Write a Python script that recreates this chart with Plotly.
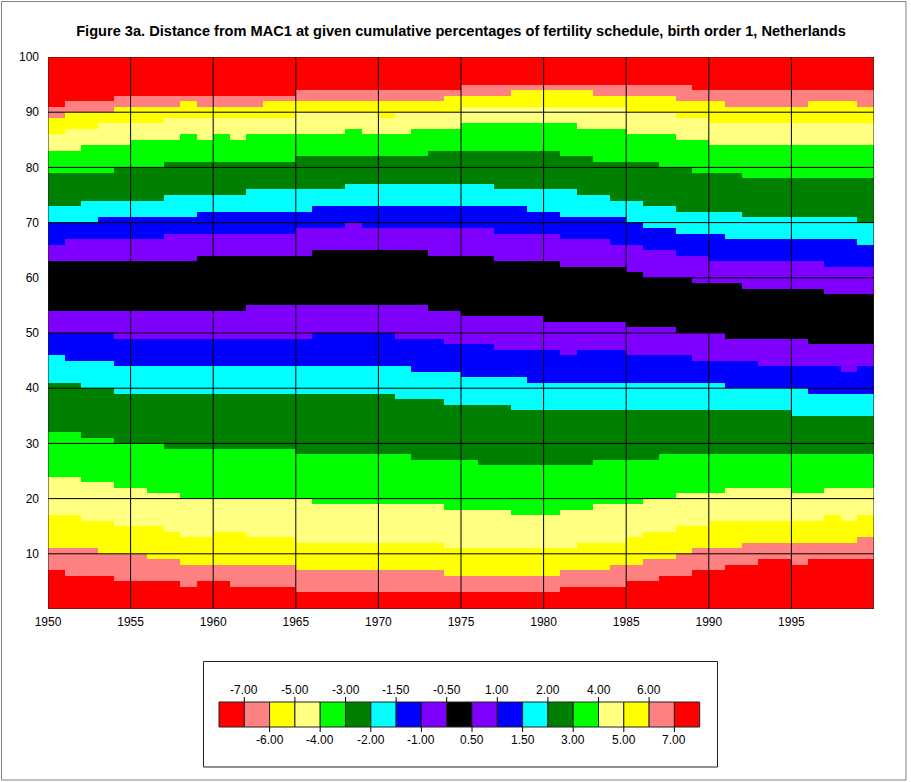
import plotly.graph_objects as go

# ---------------- data ----------------
years = list(range(1950, 2000))
year_ticks = [1950, 1955, 1960, 1965, 1970, 1975, 1980, 1985, 1990, 1995]
pct_ticks = [10, 20, 30, 40, 50, 60, 70, 80, 90, 100]

thresholds = [-7, -6, -5, -4, -3, -2, -1.5, -1, -0.5, 0.5, 1, 1.5, 2, 3, 4, 5, 6, 7]
threshold_labels = ["-7.00", "-6.00", "-5.00", "-4.00", "-3.00", "-2.00", "-1.50", "-1.00", "-0.50",
                    "0.50", "1.00", "1.50", "2.00", "3.00", "4.00", "5.00", "6.00", "7.00"]
band_colors = ["#FF0000", "#FF8080", "#FFFF00", "#FFFF80", "#00FF00", "#008000", "#00FFFF",
               "#0000FF", "#8000FF", "#000000", "#8000FF", "#0000FF", "#00FFFF", "#008000",
               "#00FF00", "#FFFF80", "#FFFF00", "#FF8080", "#FF0000"]

# cumulative percentage (lower edge, integer %) at which the distance reaches each threshold, per year
cross_m7_00 = [7,6,6,6,5,5,5,5,4,5, 5,4,4,4,4,3,3,3,3,3, 3,3,3,3,3,3,3,3,3,3, 3,4,4,4,4,5,5,6,6,7, 7,8,8,9,9,8,9,9,9,9]
cross_m6_00 = [11,11,11,10,10,10,9,9,8,8, 8,8,8,8,8,7,7,7,7,7, 7,7,7,7,6,6,6,6,6,6, 6,7,7,7,8,8,9,9,10,11, 11,11,12,12,12,12,12,12,12,13]
cross_m5_00 = [17,17,16,16,15,15,15,14,13,13, 14,14,13,13,13,12,12,12,12,12, 12,12,12,12,11,11,11,11,11,11, 11,11,12,12,12,13,14,14,15,15, 16,16,16,16,16,16,16,17,16,17]
cross_m4_00 = [24,24,23,23,22,22,21,21,20,20, 20,20,20,20,20,20,19,19,19,19, 19,19,19,19,18,18,18,18,17,17, 17,18,18,19,19,19,20,20,21,21, 21,22,22,22,22,21,21,22,22,22]
cross_m3_00 = [32,32,31,31,30,30,30,29,29,29, 29,29,29,29,29,28,28,28,28,28, 28,28,27,27,27,27,26,26,26,26, 26,26,26,27,27,27,27,28,28,28, 28,28,28,28,28,28,28,28,28,28]
cross_m2_00 = [41,41,40,40,39,39,39,39,39,39, 39,39,39,39,39,39,39,39,39,39, 39,38,38,38,37,37,37,37,36,36, 36,36,36,36,36,36,36,36,36,36, 36,36,36,36,36,35,35,35,35,35]
cross_m1_50 = [46,45,45,45,44,44,44,44,44,44, 44,44,44,44,44,44,44,44,44,44, 44,44,43,43,43,42,42,42,42,41, 41,41,41,41,41,41,41,41,41,41, 41,40,40,40,40,40,39,39,39,39]
cross_m1_00 = [50,50,50,50,49,49,49,49,49,49, 49,49,49,49,49,49,50,50,50,50, 50,49,49,49,48,48,48,47,47,47, 47,46,47,47,47,46,46,46,46,45, 45,45,45,44,44,44,44,44,43,44]
cross_m0_50 = [54,54,54,54,54,54,54,54,54,54, 54,54,55,55,55,55,55,55,55,55, 55,55,55,54,54,53,53,53,53,53, 52,52,52,52,52,51,51,51,50,50, 50,49,49,49,49,49,48,48,48,48]
cross_p0_50 = [63,63,63,63,63,63,63,63,63,64, 64,64,64,64,64,64,65,65,65,65, 65,65,65,64,64,64,64,63,63,63, 63,62,62,62,62,61,60,60,60,59, 59,59,58,58,58,58,58,57,57,57]
cross_p1_00 = [66,67,67,67,67,67,67,68,68,68, 68,68,68,68,68,69,69,69,70,69, 69,69,69,69,69,69,69,68,68,68, 68,67,67,67,66,66,65,65,64,64, 63,63,63,63,63,63,63,62,62,62]
cross_p1_50 = [70,70,70,71,71,71,71,71,71,72, 72,72,72,72,72,72,73,73,73,73, 73,73,73,73,73,73,73,73,73,72, 72,71,71,71,71,70,69,69,68,68, 68,67,67,67,67,67,67,67,67,66]
cross_p2_00 = [73,73,74,74,74,74,74,75,75,75, 75,75,76,76,76,76,76,76,77,77, 77,77,77,77,77,77,77,76,76,76, 76,76,75,75,74,74,73,73,72,72, 72,72,71,71,71,71,71,71,71,70]
cross_p3_00 = [79,79,79,79,80,80,80,81,81,81, 81,81,81,81,81,82,82,82,82,82, 82,82,82,83,83,83,83,83,83,83, 83,82,82,81,81,81,81,80,80,79, 79,79,78,78,78,78,78,78,78,78]
cross_p4_00 = [83,83,84,84,84,85,85,85,86,85, 86,85,86,86,86,86,86,86,87,86, 86,86,87,87,87,88,88,88,88,88, 88,88,87,87,87,86,86,86,85,85, 84,84,84,84,84,84,84,84,84,84]
cross_p5_00 = [86,87,87,88,88,88,88,89,89,89, 89,89,89,89,89,90,90,90,90,90, 89,90,90,90,90,91,91,91,91,91, 91,91,91,91,91,90,90,90,89,89, 88,88,88,88,88,88,88,88,88,88]
cross_p6_00 = [89,90,90,90,91,91,91,91,92,91, 91,91,91,92,92,92,92,92,92,92, 92,92,92,92,93,93,93,93,94,94, 94,94,94,93,93,93,93,93,92,92, 92,91,91,91,91,91,92,92,92,91]
cross_p7_00 = [91,92,92,92,93,93,93,93,93,93, 93,93,93,93,93,94,94,94,94,94, 94,94,94,94,94,95,95,95,95,95, 95,95,95,95,95,95,95,95,95,94, 94,94,94,94,94,94,94,94,94,94]

crossings = [cross_m7_00, cross_m6_00, cross_m5_00, cross_m4_00, cross_m3_00, cross_m2_00,
             cross_m1_50, cross_m1_00, cross_m0_50, cross_p0_50, cross_p1_00, cross_p1_50,
             cross_p2_00, cross_p3_00, cross_p4_00, cross_p5_00, cross_p6_00, cross_p7_00]

# ---------------- build band grid ----------------
pct_cells = list(range(0, 100))
z = []
for p in pct_cells:
    row = []
    for c in range(len(years)):
        row.append(sum(1 for b in crossings if b[c] <= p))
    z.append(row)

x_edges = years + [years[-1] + 1]
y_edges = pct_cells + [100]

n = len(band_colors)
colorscale = []
for i, col in enumerate(band_colors):
    colorscale.append([i / n, col])
    colorscale.append([(i + 1) / n, col])

fig = go.Figure()
fig.add_trace(go.Heatmap(z=z, x=x_edges, y=y_edges, colorscale=colorscale,
                         zmin=-0.5, zmax=n - 0.5, showscale=False, zsmooth=False,
                         hoverinfo="skip"))

# ---------------- layout ----------------
W, H = 911, 782
L, R, T, B = 48, 37, 57, 173
pw, ph = W - L - R, H - T - B


def px_x(px):
    return (px - L) / pw


def px_y(py):
    return (H - B - py) / ph


font = "Liberation Sans, Arial, sans-serif"
shapes = []
# grid lines above the bands
for yr in year_ticks[1:]:
    shapes.append(dict(type="line", xref="x", yref="y", x0=yr, x1=yr, y0=0, y1=100,
                       line=dict(color="black", width=1), layer="above"))
for p in pct_ticks[:-1]:
    shapes.append(dict(type="line", xref="x", yref="y", x0=1950, x1=2000, y0=p, y1=p,
                       line=dict(color="black", width=1), layer="above"))
# plot frame
shapes.append(dict(type="rect", xref="x", yref="y", x0=1950, x1=2000, y0=0, y1=100,
                   line=dict(color="#202020", width=1), layer="above"))
# outer chart frame
shapes.append(dict(type="rect", xref="paper", yref="paper", x0=px_x(1.5), x1=px_x(906),
                   y0=px_y(780), y1=px_y(1.5), line=dict(color="#808080", width=1), layer="above"))

# legend box
shapes.append(dict(type="rect", xref="paper", yref="paper", x0=px_x(203.5), x1=px_x(717.5),
                   y0=px_y(767), y1=px_y(661.5), line=dict(color="#202020", width=1),
                   fillcolor="white", layer="above"))
annotations = []
bx0, bw = 219.0, 25.3
by0, by1 = 702, 727
for i, col in enumerate(band_colors):
    shapes.append(dict(type="rect", xref="paper", yref="paper",
                       x0=px_x(bx0 + i * bw), x1=px_x(bx0 + (i + 1) * bw),
                       y0=px_y(by1), y1=px_y(by0), fillcolor=col,
                       line=dict(color="#202020", width=1), layer="above"))
for j, lab in enumerate(threshold_labels):
    xb = bx0 + (j + 1) * bw
    if j % 2 == 0:
        shapes.append(dict(type="line", xref="paper", yref="paper", x0=px_x(xb), x1=px_x(xb),
                           y0=px_y(by0), y1=px_y(by0 - 5), line=dict(color="black", width=1)))
        annotations.append(dict(xref="paper", yref="paper", x=px_x(xb), y=px_y(690), text=lab,
                                showarrow=False, xanchor="center", yanchor="middle",
                                font=dict(family=font, size=12, color="black")))
    else:
        shapes.append(dict(type="line", xref="paper", yref="paper", x0=px_x(xb), x1=px_x(xb),
                           y0=px_y(by1 + 5), y1=px_y(by1), line=dict(color="black", width=1)))
        annotations.append(dict(xref="paper", yref="paper", x=px_x(xb), y=px_y(740), text=lab,
                                showarrow=False, xanchor="center", yanchor="middle",
                                font=dict(family=font, size=12, color="black")))

fig.update_layout(
    width=W, height=H,
    margin=dict(l=L, r=R, t=T, b=B),
    paper_bgcolor="white", plot_bgcolor="white",
    title=dict(text="<b>Figure 3a. Distance from MAC1 at given cumulative percentages of fertility schedule, birth order 1, Netherlands</b>",
               x=0.5, xref="paper", xanchor="center", y=1 - 31 / H, yref="container", yanchor="middle",
               font=dict(family=font, size=14.6, color="black")),
    xaxis=dict(range=[1950, 2000], tickvals=year_ticks, ticktext=[str(v) for v in year_ticks],
               showgrid=False, zeroline=False, showline=False, ticks="",
               ticklabelstandoff=4, tickfont=dict(family=font, size=12, color="black")),
    yaxis=dict(range=[0, 100], tickvals=pct_ticks, ticktext=[str(v) for v in pct_ticks],
               showgrid=False, zeroline=False, showline=False, ticks="",
               ticklabelstandoff=8, tickfont=dict(family=font, size=12, color="black")),
    shapes=shapes, annotations=annotations, showlegend=False,
)

fig.write_html("out.html", config={"displayModeBar": False},
               post_script="document.body.style.margin='0px';document.body.style.overflow='hidden';")
